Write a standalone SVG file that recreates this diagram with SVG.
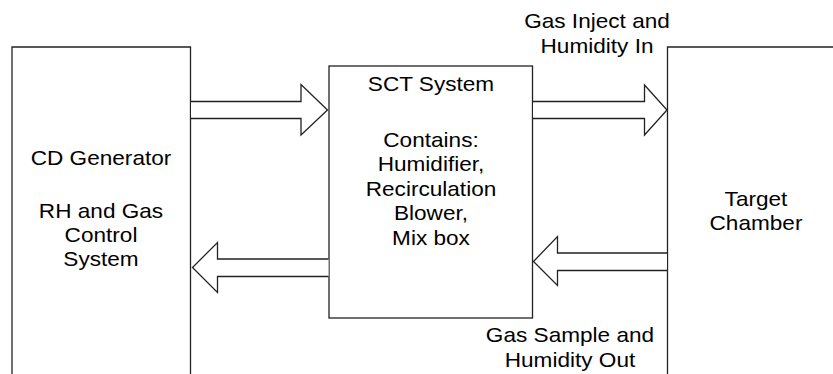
<svg xmlns="http://www.w3.org/2000/svg" width="833" height="374" viewBox="0 0 833 374">
<style>
.box{fill:#fff;stroke:#222;stroke-width:1.3}
.arr{fill:#fff;stroke:#222;stroke-width:1.3;stroke-linejoin:miter}
text{font-family:"Liberation Sans",Arial,sans-serif;font-size:20px;fill:#000;text-anchor:middle}
</style>
<rect width="833" height="374" fill="#fff"/>
<g id="cd-generator">
<path class="box" d="M12,380 V47 H190.5 V380"/>
<text transform="translate(101,165) scale(1.13,1)">CD Generator</text>
<text transform="translate(101,218) scale(1.13,1)">RH and Gas</text>
<text transform="translate(101,242) scale(1.13,1)">Control</text>
<text transform="translate(101,266) scale(1.13,1)">System</text>
</g>
<g id="sct-system">
<rect class="box" x="329" y="66" width="203.5" height="252"/>
<text transform="translate(431,91) scale(1.13,1)">SCT System</text>
<text transform="translate(431,147) scale(1.13,1)">Contains:</text>
<text transform="translate(431,171) scale(1.13,1)">Humidifier,</text>
<text transform="translate(431,196) scale(1.13,1)">Recirculation</text>
<text transform="translate(431,220) scale(1.13,1)">Blower,</text>
<text transform="translate(431,245) scale(1.13,1)">Mix box</text>
</g>
<g id="target-chamber">
<path class="box" d="M667.5,380 V47 H840"/>
<text transform="translate(756,206) scale(1.13,1)">Target</text>
<text transform="translate(756,230) scale(1.13,1)">Chamber</text>
</g>
<g id="connectors">
<path class="arr" d="M191,101.5 H301 V84.5 L327.5,110 L301,135 V118.5 H191"/>
<path class="arr" d="M533,101.5 H644.5 V85 L667,110 L644.5,135 V118.5 H533"/>
<path class="arr" d="M328.5,259 H217.5 V242.5 L192.5,267.5 L217.5,292.5 V276.5 H328.5"/>
<path class="arr" d="M667,253 H557.5 V236.5 L533.5,261.5 L557.5,285.5 V270.5 H667"/>
</g>
<g id="labels">
<text transform="translate(597,28) scale(1.13,1)">Gas Inject and</text>
<text transform="translate(597,53) scale(1.13,1)">Humidity In</text>
<text transform="translate(570,342) scale(1.13,1)">Gas Sample and</text>
<text transform="translate(570,366.5) scale(1.13,1)">Humidity Out</text>
</g>
</svg>
